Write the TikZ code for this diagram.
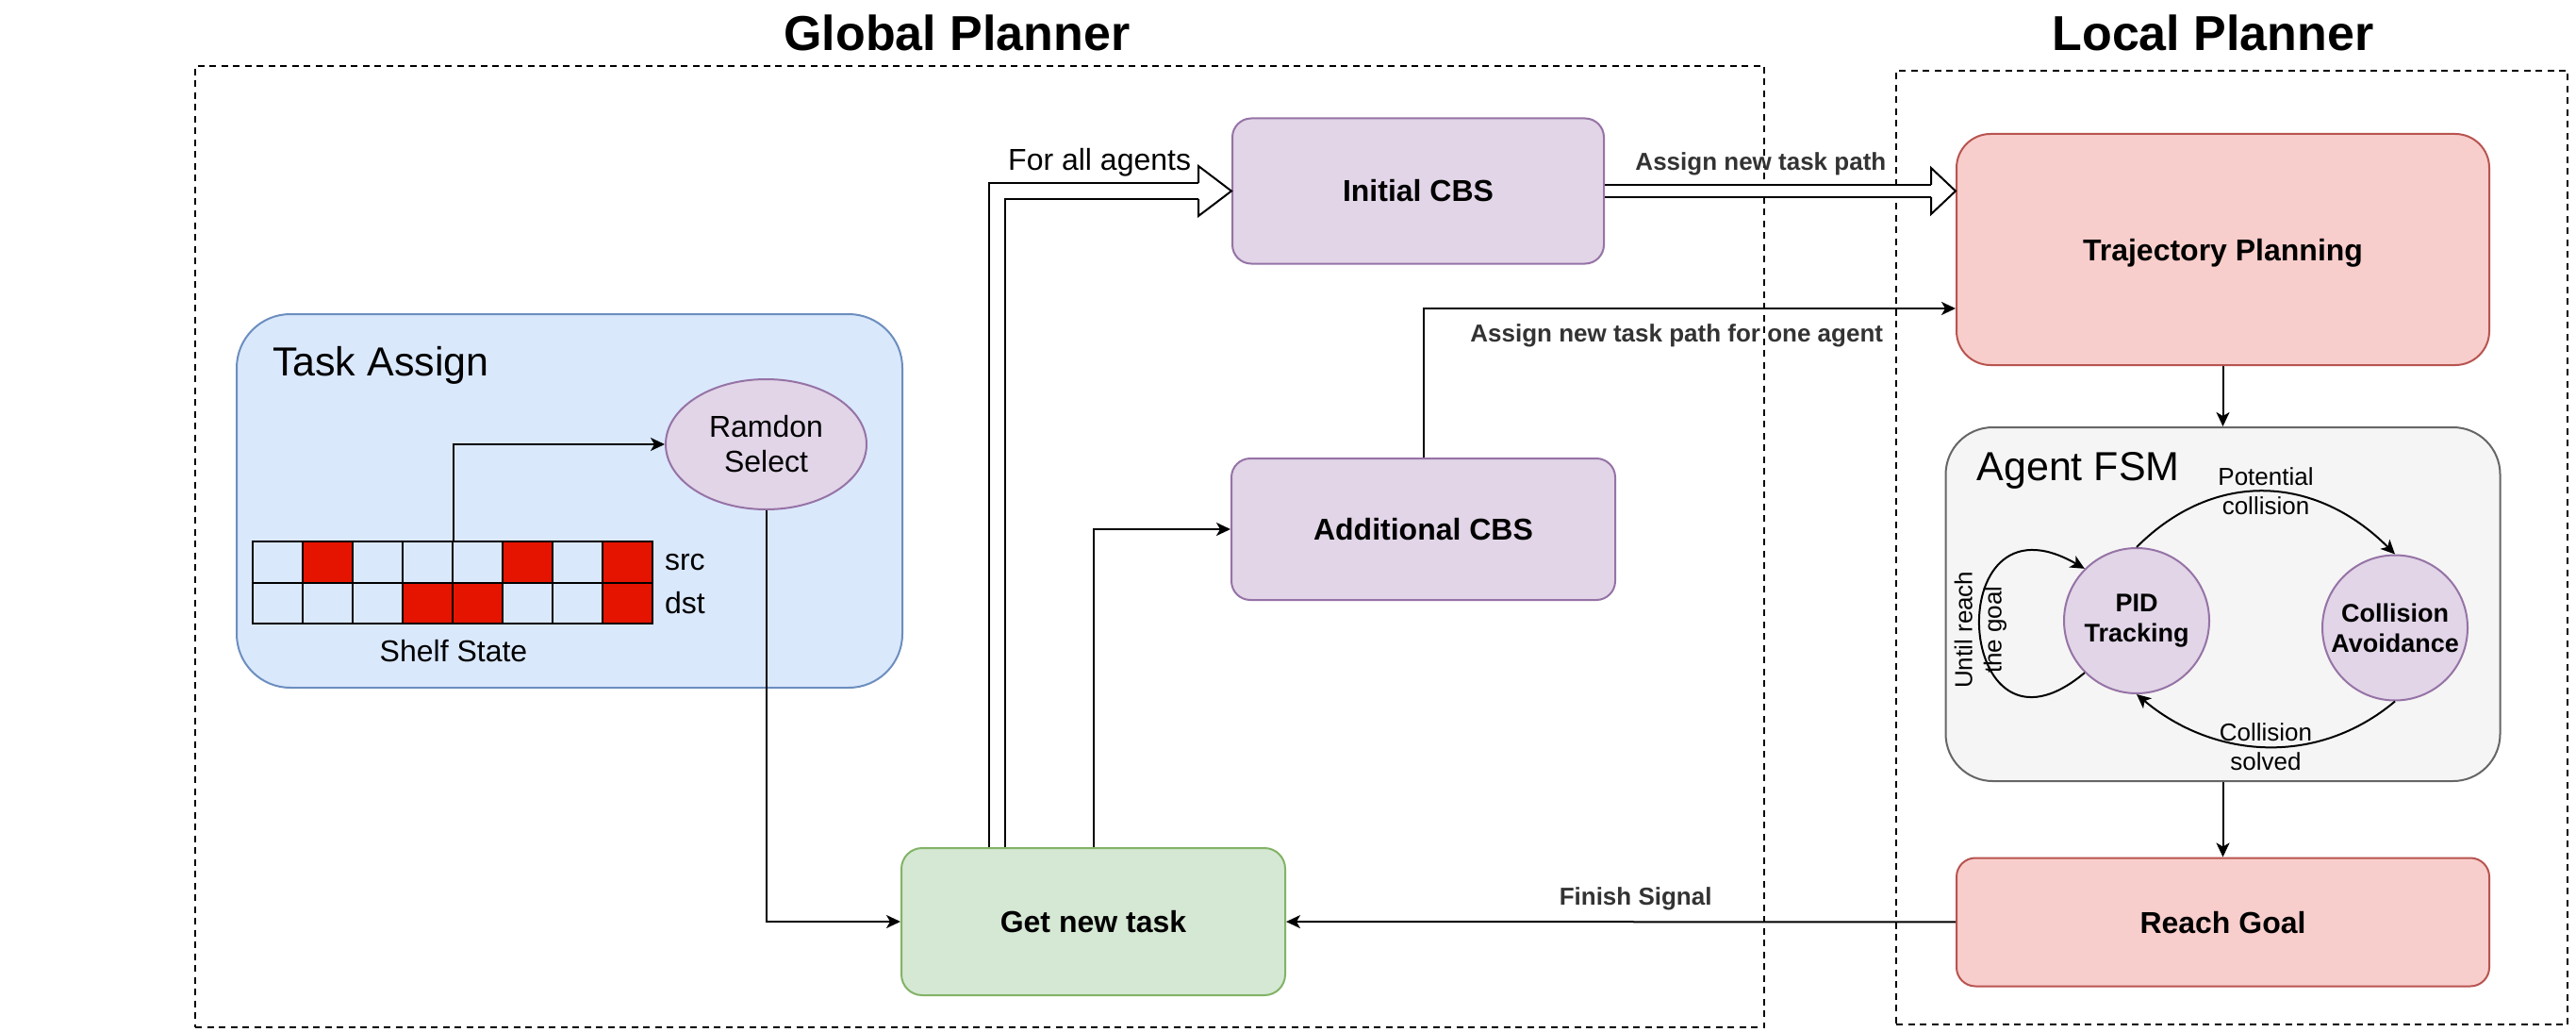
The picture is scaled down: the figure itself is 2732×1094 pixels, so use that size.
\documentclass[tikz,border=0pt]{standalone}
\usepackage{fontspec}
\setmainfont{Liberation Sans}
\usetikzlibrary{arrows.meta, positioning, shapes.geometric, calc}

\definecolor{bluefill}{HTML}{DAE8FC}
\definecolor{bluedraw}{HTML}{6C8EBF}
\definecolor{purplefill}{HTML}{E1D5E7}
\definecolor{purpledraw}{HTML}{9673A6}
\definecolor{greenfill}{HTML}{D5E8D4}
\definecolor{greendraw}{HTML}{82B366}
\definecolor{redfill}{HTML}{F8CECC}
\definecolor{reddraw}{HTML}{B85450}
\definecolor{greyfill}{HTML}{F5F5F5}
\definecolor{greydraw}{HTML}{666666}
\definecolor{cellred}{HTML}{E51400}
\definecolor{labelgrey}{HTML}{333333}

\newcommand{\titletxt}{\fontsize{52}{62}\selectfont\bfseries}
\newcommand{\headtxt}{\fontsize{43}{50}\selectfont}
\newcommand{\boxtxt}{\fontsize{32}{37}\selectfont\bfseries}
\newcommand{\plaintxt}{\fontsize{32}{37}\selectfont}
\newcommand{\edgetxt}{\fontsize{26}{31}\selectfont}
\newcommand{\edgebold}{\fontsize{26}{31}\selectfont\bfseries}
\newcommand{\statetxt}{\fontsize{27}{32}\selectfont\bfseries}

\begin{document}
\begin{tikzpicture}[x=1pt,y=-1pt,->,>={Stealth[length=15pt,width=14pt,inset=4pt]},
                    line width=2pt]
  \tikzstyle{framebox}=[-,draw=black,dash pattern=on 7pt off 5.5pt,inner sep=0pt]
  \tikzstyle{region}=[-,draw,rectangle,inner sep=0pt]
  \tikzstyle{stage}=[-,draw,rectangle,rounded corners=20pt,inner sep=0pt,
                     text height=23pt,text depth=0pt,font=\boxtxt]
  \tikzstyle{cbs}=[stage,fill=purplefill,draw=purpledraw]
  \tikzstyle{shelfcell}=[-,draw=black,rectangle,minimum width=53pt,minimum height=43.5pt,inner sep=0pt]
  \tikzstyle{fsmstate}=[-,circle,draw=purpledraw,fill=purplefill,minimum size=154pt,
                        inner sep=0pt,align=center,font=\statetxt]
  \tikzstyle{txt}=[inner sep=0pt]
  \tikzstyle{hollow}=[-,draw=black,double=white]

  \useasboundingbox (0,0) rectangle (2732,1094);

  \node[framebox, minimum width=1664pt, minimum height=1019pt] (global) at (1039,579.5) {};
  \node[framebox, minimum width=712pt, minimum height=1011pt] (local) at (2367,580.5) {};
  \node[txt, font=\titletxt, anchor=base] (globaltitle) at (1015,54) {Global Planner};
  \node[txt, font=\titletxt, anchor=base] (localtitle) at (2347,54) {Local Planner};

  \node[region, fill=bluefill, draw=bluedraw, rounded corners=57pt,
        minimum width=706pt, minimum height=396pt] (taskbox) at (604,531) {};
  \node[region, fill=greyfill, draw=greydraw, rounded corners=50pt,
        minimum width=588pt, minimum height=375pt] (fsm) at (2357.5,640.5) {};
  \node[txt, font=\headtxt, anchor=base west] (tasklbl)
       at ([xshift=38pt,yshift=-66pt]taskbox.north west) {Task Assign};
  \node[txt, font=\headtxt, anchor=base west] (fsmlbl)
       at ([xshift=33pt,yshift=-57pt]fsm.north west) {Agent FSM};

  \foreach \i/\s/\d in {1/none/none, 2/cellred/none, 3/none/none, 4/none/cellred,
                        5/none/cellred, 6/cellred/none, 7/none/none, 8/cellred/cellred} {
    \node[shelfcell, fill=\s] (src\i) at ({241.5+53*\i},595.75) {};
    \node[shelfcell, fill=\d] (dst\i) at ({241.5+53*\i},639.25) {};
  }
  \node[txt, font=\plaintxt, right=11pt of src8] (srclbl) {src};
  \node[txt, font=\plaintxt, right=11pt of dst8] (dstlbl) {dst};
  \node[txt, font=\plaintxt, below=15pt of dst4.south east] (shelflbl) {Shelf State};

  \node[-, ellipse, draw=purpledraw, fill=purplefill, minimum width=213pt, minimum height=138pt,
        inner sep=0pt, align=center, font=\plaintxt] (ramdon) at (812.5,471) {Ramdon\\Select};

  \node[cbs, minimum width=394pt, minimum height=154pt] (initcbs) at (1504,202.5) {Initial CBS};
  \node[cbs, minimum width=407pt, minimum height=150pt] (addcbs) at (1509.5,561) {Additional CBS};
  \node[stage, fill=greenfill, draw=greendraw, rounded corners=22pt,
        minimum width=407pt, minimum height=156pt] (newtask) at (1159.5,977) {Get new task};
  \node[stage, fill=redfill, draw=reddraw, rounded corners=36pt,
        minimum width=565pt, minimum height=245pt] (traj) at (2357.5,264.5) {Trajectory Planning};
  \node[stage, fill=redfill, draw=reddraw,
        minimum width=565pt, minimum height=136pt] (reach) at (2357.5,977.5) {Reach Goal};

  \node[fsmstate] (pid) at (2266,658) {PID\\Tracking};
  \node[fsmstate] (ca) at (2540,665.5) {Collision\\Avoidance};

  \draw (src4.north east) |- (ramdon);
  \draw (ramdon) |- (newtask);
  \draw (newtask) |- (addcbs);
  \draw (addcbs) |- node[pos=0.738, below=16pt, txt, font=\edgebold, text=labelgrey]
        {Assign new task path for one agent} ([yshift=61pt]traj.south west);

  \coordinate (forall) at ([xshift=102pt]newtask.north west);
  \draw[hollow, double distance=15pt] (forall) |- node[pos=0.755, above=14pt, txt, font=\plaintxt]
        {For all agents} ($(initcbs.west)+(-35,0)$);
  \filldraw[-, fill=white] ($(initcbs.west)+(-35,-8.5)$) -- ++(0,-18) -- (initcbs.west)
        -- ++(-35,26.5) -- ++(0,-18);

  \coordinate (trajin) at (traj.west |- initcbs.east);
  \draw[hollow, double distance=11pt] (initcbs.east) -- node[pos=0.478, above=15pt, txt, font=\edgebold,
        text=labelgrey] {Assign new task path} ($(trajin)+(-26,0)$);
  \filldraw[-, fill=white] ($(trajin)+(-26,-6.5)$) -- ++(0,-18) -- (trajin)
        -- ++(-26,24.5) -- ++(0,-18);

  \path (traj) edge (fsm)
        (fsm) edge (reach)
        (reach) edge node[pos=0.478, above=11.5pt, txt, font=\edgebold, text=labelgrey]
              {Finish Signal} (newtask);

  \path (pid.north) edge [out=45, in=135, looseness=1.1]
              node[font=\edgetxt, align=center] {Potential\\collision} (ca.north)
        (ca.south) edge [out=220, in=-40]
              node[font=\edgetxt, align=center] {Collision\\solved} (pid.south)
        (pid.225) edge [out=220, in=150, looseness=4.2]
              node[font=\edgetxt, align=center, rotate=90] {Until reach\\the goal} (pid.135);
\end{tikzpicture}
\end{document}
